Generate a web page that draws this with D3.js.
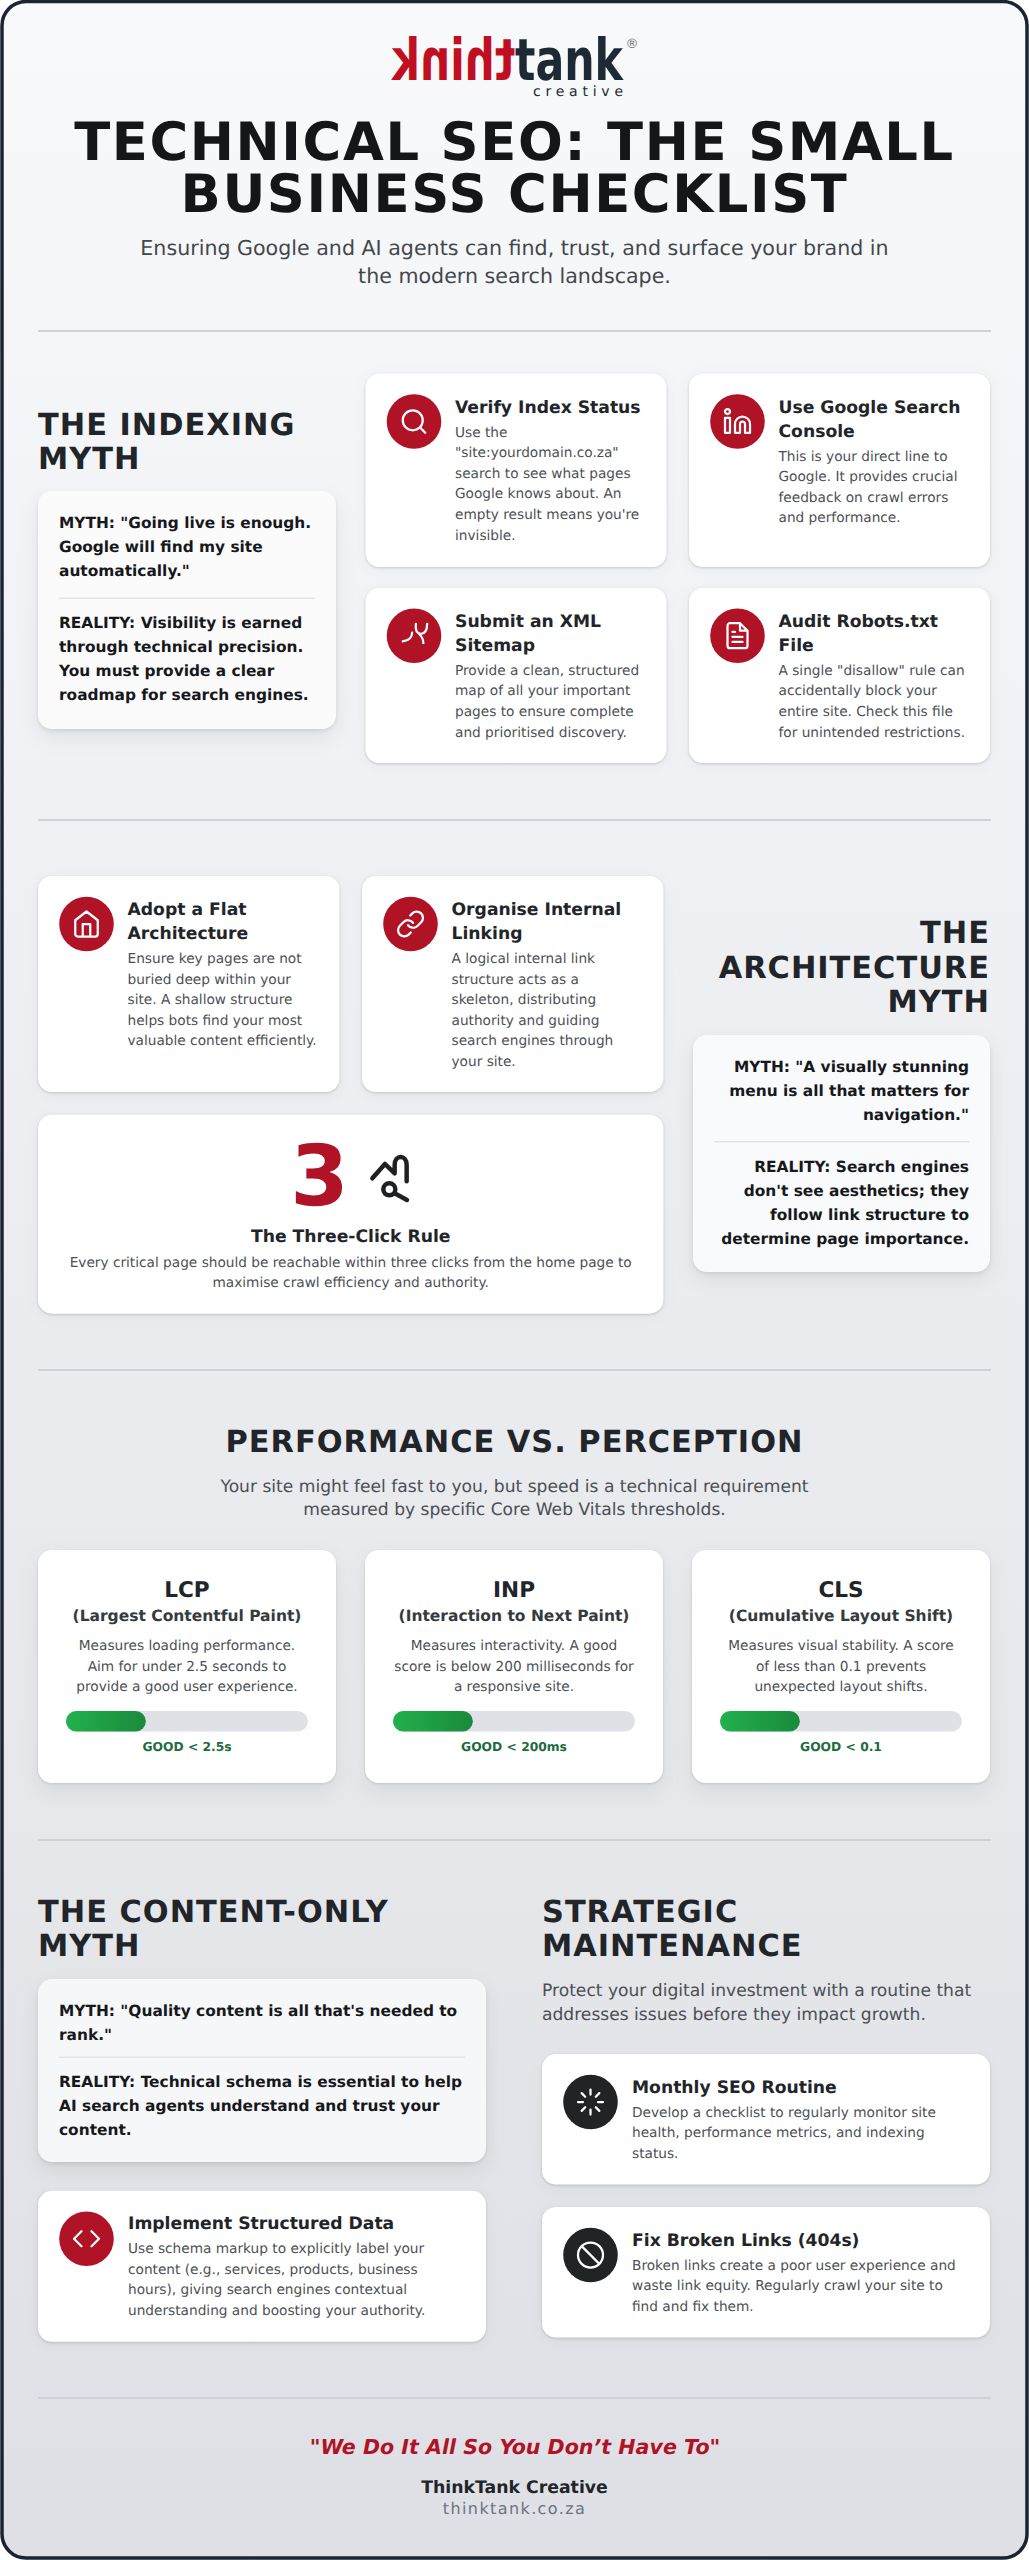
<!DOCTYPE html>
<html>
<head>
<meta charset="utf-8">
<title>Technical SEO: The Small Business Checklist</title>
<script src="https://cdnjs.cloudflare.com/ajax/libs/d3/7.8.5/d3.min.js"></script>
<style>
    html, body { margin: 0; padding: 0; background: #fff; }
    svg { display: block; font-family: "DejaVu Sans", sans-serif; text-rendering: geometricPrecision; }
    .card { filter: drop-shadow(0 1.5px 1.5px rgba(0,0,0,.16)) drop-shadow(0 3px 7px rgba(0,0,0,.04)); }
    .metric-card { filter: drop-shadow(0 1.5px 1.5px rgba(0,0,0,.13)) drop-shadow(0 8px 10px rgba(0,0,0,.06)); }
    .myth-card { filter: drop-shadow(0 2px 2px rgba(0,0,0,.09)) drop-shadow(0 8px 10px rgba(0,0,0,.07)); }
    .sec-head { font-size: 30.4px; font-weight: 700; letter-spacing: 1px; fill: #212529; }
    .tip-title { font-size: 17.2px; font-weight: 700; fill: #212529; }
    .tip-body { font-size: 13.7px; fill: #4b4f54; }
    .myth-text { font-size: 15.4px; font-weight: 700; fill: #16181b; }
    .icon { fill: none; stroke: #fff; stroke-width: 1.8; stroke-linecap: round; stroke-linejoin: round; }
</style>
</head>
<body>
<svg id="page" width="1029" height="2560"></svg>
<script>
// Header
var titleLines = ['TECHNICAL SEO: THE SMALL', 'BUSINESS CHECKLIST'];
var subtitleLines = ['Ensuring Google and AI agents can find, trust, and surface your brand in', 'the modern search landscape.'];

// Indexing section
var indexHead = ['THE INDEXING', 'MYTH'];
var indexMyth = ['MYTH: "Going live is enough.', 'Google will find my site', 'automatically."'];
var indexReality = ['REALITY: Visibility is earned', 'through technical precision.', 'You must provide a clear', 'roadmap for search engines.'];
var indexTitles = [['Verify Index Status'], ['Use Google Search', 'Console'], ['Submit an XML', 'Sitemap'], ['Audit Robots.txt', 'File']];
var indexBodies = [
    ['Use the', '"site:yourdomain.co.za"', 'search to see what pages', 'Google knows about. An', "empty result means you're", 'invisible.'],
    ['This is your direct line to', 'Google. It provides crucial', 'feedback on crawl errors', 'and performance.'],
    ['Provide a clean, structured', 'map of all your important', 'pages to ensure complete', 'and prioritised discovery.'],
    ['A single "disallow" rule can', 'accidentally block your', 'entire site. Check this file', 'for unintended restrictions.']
];
var indexIcons = ['search', 'linkedin', 'sitemap', 'file'];

// Architecture section
var archHead = ['THE', 'ARCHITECTURE', 'MYTH'];
var archMyth = ['MYTH: "A visually stunning', 'menu is all that matters for', 'navigation."'];
var archReality = ['REALITY: Search engines', "don't see aesthetics; they", 'follow link structure to', 'determine page importance.'];
var archTitles = [['Adopt a Flat', 'Architecture'], ['Organise Internal', 'Linking']];
var archBodies = [
    ['Ensure key pages are not', 'buried deep within your', 'site. A shallow structure', 'helps bots find your most', 'valuable content efficiently.'],
    ['A logical internal link', 'structure acts as a', 'skeleton, distributing', 'authority and guiding', 'search engines through', 'your site.']
];
var archIcons = ['home', 'link'];
var ruleNumber = '3';
var ruleTitle = 'The Three-Click Rule';
var ruleBody = ['Every critical page should be reachable within three clicks from the home page to', 'maximise crawl efficiency and authority.'];

// Core Web Vitals section
var perfHead = 'PERFORMANCE VS. PERCEPTION';
var perfIntro = ['Your site might feel fast to you, but speed is a technical requirement', 'measured by specific Core Web Vitals thresholds.'];
var metricNames = ['LCP', 'INP', 'CLS'];
var metricLong = ['(Largest Contentful Paint)', '(Interaction to Next Paint)', '(Cumulative Layout Shift)'];
var metricBodies = [
    ['Measures loading performance.', 'Aim for under 2.5 seconds to', 'provide a good user experience.'],
    ['Measures interactivity. A good', 'score is below 200 milliseconds for', 'a responsive site.'],
    ['Measures visual stability. A score', 'of less than 0.1 prevents', 'unexpected layout shifts.']
];
var metricFill = [33, 33, 33];
var metricLabels = ['GOOD < 2.5s', 'GOOD < 200ms', 'GOOD < 0.1'];

// Content and maintenance
var contentHead = ['THE CONTENT-ONLY', 'MYTH'];
var contentMyth = ['MYTH: "Quality content is all that\'s needed to', 'rank."'];
var contentReality = ['REALITY: Technical schema is essential to help', 'AI search agents understand and trust your', 'content.'];
var dataTitle = ['Implement Structured Data'];
var dataBody = ['Use schema markup to explicitly label your', 'content (e.g., services, products, business', 'hours), giving search engines contextual', 'understanding and boosting your authority.'];
var maintHead = ['STRATEGIC', 'MAINTENANCE'];
var maintIntro = ['Protect your digital investment with a routine that', 'addresses issues before they impact growth.'];
var maintTitles = [['Monthly SEO Routine'], ['Fix Broken Links (404s)']];
var maintBodies = [
    ['Develop a checklist to regularly monitor site', 'health, performance metrics, and indexing', 'status.'],
    ['Broken links create a poor user experience and', 'waste link equity. Regularly crawl your site to', 'find and fix them.']
];
var maintIcons = ['loader', 'ban'];

// Footer
var quote = '"We Do It All So You Don\u2019t Have To"';
var brand = 'ThinkTank Creative';
var website = 'thinktank.co.za';

// Icon outlines on a 24 unit grid
var iconPaths = {
    search: 'M19 11a8 8 0 1 1-16 0a8 8 0 1 1 16 0zM21 21l-4.35-4.35',
    linkedin: 'M16 8a6 6 0 0 1 6 6v7h-4v-7a2 2 0 0 0-2-2a2 2 0 0 0-2 2v7h-4v-7a6 6 0 0 1 6-6zM2 9h4v12H2zM6 4a2 2 0 1 1-4 0a2 2 0 1 1 4 0z',
    sitemap: 'M3 16.5C8 16 10.5 13 10.5 9.5M13.5 2.500C13 9 15 10.500 17.500 10.500C20.500 10.500 22.500 8 22.500 2.500M16 10.500C18.500 13 19.500 16 19.500 18',
    file: 'M14 2H6a2 2 0 0 0-2 2v16a2 2 0 0 0 2 2h12a2 2 0 0 0 2-2V8zM14 2v6h6M16 13H8M16 17H8M10 9H8',
    home: 'M3 9l9-7l9 7v11a2 2 0 0 1-2 2H5a2 2 0 0 1-2-2zM9 22V12h6v10',
    link: 'M10 13a5 5 0 0 0 7.54.54l3-3a5 5 0 0 0-7.07-7.07l-1.72 1.71M14 11a5 5 0 0 0-7.54-.54l-3 3a5 5 0 0 0 7.07 7.07l1.71-1.71',
    code: 'M16 18l6-6l-6-6M8 6l-6 6l6 6',
    loader: 'M12 2v4M12 18v4M4.93 4.93l2.83 2.83M16.24 16.24l2.83 2.83M2 12h4M18 12h4M4.93 19.07l2.83-2.83M16.24 7.76l2.83-2.83',
    ban: 'M22 12a10 10 0 1 1-20 0a10 10 0 1 1 20 0zM4.93 4.93l14.14 14.14'
};

var svg = d3.select('#page');
var width = +svg.attr('width');
var height = +svg.attr('height');
var padL = 38, padR = 990, midX = width / 2;
var red = '#b01226', dark = '#212325';

var defs = svg.append('defs');
var pageGrad = defs.append('linearGradient').attr('id', 'pageGrad').attr('x2', 0).attr('y2', 1);
pageGrad.append('stop').attr('offset', 0).attr('stop-color', '#f8f9fb');
pageGrad.append('stop').attr('offset', 1).attr('stop-color', '#dee0e5');
var barGrad = defs.append('linearGradient').attr('id', 'barGrad');
barGrad.append('stop').attr('offset', 0).attr('stop-color', '#22b14c');
barGrad.append('stop').attr('offset', 1).attr('stop-color', '#1a8a3c');

// Page frame
svg.append('rect')
    .attr('x', 2).attr('y', 1.5)
    .attr('width', width - 4).attr('height', height - 3.5)
    .attr('rx', 24)
    .attr('fill', 'url(#pageGrad)')
    .attr('stroke', '#1a2433')
    .attr('stroke-width', 3.5);

// Draw several lines of text, one per array entry
function lines(parent, arr, x, y, lh, cls, anchor) {
    return parent.append('g').selectAll('text')
        .data(arr)
        .enter().append('text')
        .attr('class', cls || null)
        .attr('x', x)
        .attr('y', function(d, i) { return y + i * lh; })
        .attr('text-anchor', anchor || 'start')
        .text(function(d) { return d; });
}

function panel(x, y, w, h, cls, fill) {
    svg.append('rect')
        .attr('class', cls)
        .attr('x', x).attr('y', y)
        .attr('width', w).attr('height', h)
        .attr('rx', 14)
        .attr('fill', fill);
}

function divider(y) {
    svg.append('rect').attr('x', padL).attr('y', y).attr('width', padR - padL + 1).attr('height', 2).attr('fill', '#ced1d8');
}

function icon(name, cx, cy, fill) {
    var g = svg.append('g').attr('transform', 'translate(' + [cx, cy] + ')');
    g.append('circle').attr('r', 27.3).attr('fill', fill);
    g.append('path')
        .attr('class', 'icon')
        .attr('d', iconPaths[name])
        .attr('transform', 'scale(1.25) translate(-12,-12)');
}

// Tip card: icon on the left, title and body on the right
function tip(box, title, body, iconName, iconFill, firstBase, titleX) {
    panel(box.x, box.y, box.w, box.h, 'card', '#fff');
    icon(iconName, box.x + 48.5, box.y + 48, iconFill);
    lines(svg, title, titleX, box.y + firstBase, 24, 'tip-title');
    lines(svg, body, titleX, box.y + firstBase + title.length * 24, box.lh || 20.6, 'tip-body');
}

function myth(box, mythLines, realityLines, anchor) {
    panel(box.x, box.y, box.w, box.h, 'myth-card', box.fill);
    var tx = anchor === 'end' ? box.x + box.w - 21 : box.x + 21;
    lines(svg, mythLines, tx, box.y + 37, 24, 'myth-text', anchor);
    svg.append('rect')
        .attr('x', box.x + 21).attr('y', box.ruleY)
        .attr('width', box.w - 42).attr('height', 1.5)
        .attr('fill', '#e2e4e8');
    lines(svg, realityLines, tx, box.ruleY + 30.500, 24, 'myth-text', anchor);
}

// Logo
var logo = svg.append('g');
logo.append('text')
    .attr('transform', 'translate(515,80) scale(-1,1)')
    .attr('font-size', 58).attr('font-weight', 700)
    .attr('textLength', 123).attr('lengthAdjust', 'spacingAndGlyphs')
    .attr('fill', '#c00f22')
    .text('think');
logo.append('text')
    .attr('x', 515).attr('y', 80)
    .attr('font-size', 58).attr('font-weight', 700)
    .attr('textLength', 108).attr('lengthAdjust', 'spacingAndGlyphs')
    .attr('fill', '#1d2a35')
    .text('tank');
logo.append('text')
    .attr('x', 533).attr('y', 96)
    .attr('font-size', 14)
    .attr('textLength', 90)
    .attr('fill', '#222a30')
    .text('creative');
logo.append('text')
    .attr('x', 632).attr('y', 48)
    .attr('text-anchor', 'middle')
    .attr('font-size', 13)
    .attr('fill', '#6d7278')
    .text('\u00ae');

// Header text
lines(svg, titleLines, midX, 160, 52, null, 'middle')
    .attr('font-size', 52.8).attr('font-weight', 700)
    .attr('fill', '#14171a').style('letter-spacing', '1.6px');
lines(svg, subtitleLines, midX, 255, 27.5, null, 'middle')
    .attr('font-size', 20.6).attr('fill', '#43474c');
divider(330);

// Indexing section
lines(svg, indexHead, padL, 434.5, 34.5, 'sec-head');
myth({x: padL, y: 491, w: 298, h: 238, fill: '#fbfbfc', ruleY: 597.5}, indexMyth, indexReality);
var indexCols = [365.5, 689], indexRows = [{y: 373.5, h: 193.5}, {y: 587.7, h: 175.3}];
indexTitles.forEach(function(title, i) {
    var col = indexCols[i % 2], row = indexRows[Math.floor(i / 2)];
    tip({x: col, y: row.y, w: 301, h: row.h}, title, indexBodies[i], indexIcons[i], red, 39, col + 89.5);
});
divider(819);

// Architecture section
var archCols = [padL, 362];
archTitles.forEach(function(title, i) {
    tip({x: archCols[i], y: 876, w: 301.5, h: 216}, title, archBodies[i], archIcons[i], red, 39, archCols[i] + 89.5);
});
panel(padL, 1114.7, 625.4, 199, 'card', '#fff');
svg.append('text')
    .attr('x', 319.5).attr('y', 1204.500)
    .attr('text-anchor', 'middle')
    .attr('font-size', 84).attr('font-weight', 700)
    .attr('fill', red)
    .text(ruleNumber);
var clickIcon = svg.append('g')
    .attr('transform', 'translate(270,1120) scale(0.3333)')
    .attr('fill', 'none').attr('stroke', '#1e2022').attr('stroke-width', 13.5)
    .attr('stroke-linecap', 'round').attr('stroke-linejoin', 'round');
clickIcon.append('path').attr('d', 'M307 175L345 132L374 160V135C374 103 410 103 410 135V184');
clickIcon.append('circle').attr('cx', 358).attr('cy', 208).attr('r', 18);
clickIcon.append('path').attr('d', 'M374 220L411 240');
lines(svg, [ruleTitle], 350.7, 1241.7, 24, 'tip-title', 'middle');
lines(svg, ruleBody, 350.7, 1266.7, 20.6, 'tip-body', 'middle');

lines(svg, archHead, padR, 943, 34.5, 'sec-head', 'end');
myth({x: 693, y: 1035, w: 297, h: 237, fill: '#f9fafb', ruleY: 1141}, archMyth, archReality, 'end');
divider(1369);

// Core Web Vitals section
lines(svg, [perfHead], midX, 1451.7, 34, 'sec-head', 'middle');
lines(svg, perfIntro, midX, 1491.7, 23.5, null, 'middle')
    .attr('font-size', 17.12).attr('fill', '#4b4f54');

var metricX = d3.scaleBand().domain(metricNames).range([padL, padR]).paddingInner(0.0887);
var cardW = metricX.bandwidth();
var barInset = 28, barY = 1711, barH = 20.6;
var barScale = d3.scaleLinear().domain([0, 100]).range([0, cardW - barInset * 2]);

metricNames.forEach(function(name, i) {
    var x = metricX(name), cx = x + cardW / 2;
    panel(x, 1550, cardW, 233, 'metric-card', '#fff');
    lines(svg, [name], cx, 1597, 24, null, 'middle').attr('font-size', 21.6).attr('font-weight', 700).attr('fill', '#212529');
    lines(svg, [metricLong[i]], cx, 1620.7, 24, null, 'middle').attr('font-size', 15.5).attr('font-weight', 700).attr('fill', '#343a40');
    lines(svg, metricBodies[i], cx, 1650, 20.6, 'tip-body', 'middle');
    svg.append('rect')
        .attr('x', x + barInset).attr('y', barY)
        .attr('width', barScale(100)).attr('height', barH)
        .attr('rx', barH / 2).attr('fill', '#dfe1e6');
    svg.append('rect')
        .attr('x', x + barInset).attr('y', barY)
        .attr('width', barScale(metricFill[i])).attr('height', barH)
        .attr('rx', barH / 2).attr('fill', 'url(#barGrad)');
    lines(svg, [metricLabels[i]], cx, 1750.7, 20, null, 'middle').attr('font-size', 12.3).attr('font-weight', 700).attr('fill', '#1d6b40');
});
divider(1839);

// Content myth
lines(svg, contentHead, padL, 1921.5, 34.5, 'sec-head');
myth({x: padL, y: 1979, w: 448, h: 183, fill: '#f6f7f9', ruleY: 2056.5}, contentMyth, contentReality);
tip({x: padL, y: 2190.8, w: 448, h: 151}, dataTitle, dataBody, 'code', red, 38.200, 128);

// Strategic maintenance
lines(svg, maintHead, 542, 1921.5, 34.5, 'sec-head');
lines(svg, maintIntro, 542, 1996, 23.8).attr('font-size', 17.12).attr('fill', '#4b4f54');
var maintRows = [2054, 2207];
maintTitles.forEach(function(title, i) {
    tip({x: 542, y: maintRows[i], w: 448, h: 130.500}, title, maintBodies[i], maintIcons[i], dark, 38.500, 632);
});
divider(2397);

// Footer
svg.append('text')
    .attr('x', midX + 0.5).attr('y', 2453.800)
    .attr('text-anchor', 'middle')
    .attr('font-size', 20.6).attr('font-weight', 700).attr('font-style', 'italic')
    .attr('fill', red)
    .text(quote);
svg.append('text')
    .attr('x', midX).attr('y', 2493)
    .attr('text-anchor', 'middle')
    .attr('font-size', 17.3).attr('font-weight', 700)
    .attr('fill', '#212529')
    .text(brand);
svg.append('text')
    .attr('x', midX).attr('y', 2514)
    .attr('text-anchor', 'middle')
    .attr('font-size', 16)
    .attr('fill', '#6b7280')
    .style('letter-spacing', '1.4px')
    .text(website);
</script>
</body>
</html>
